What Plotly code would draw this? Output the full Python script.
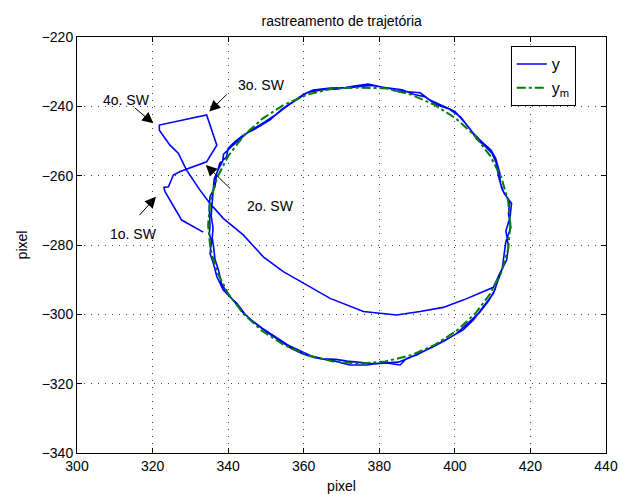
import plotly.graph_objects as go

# reference circle y_m
ym_x = [414.7, 414.1, 412.3, 409.3, 405.3, 400.4, 394.7, 388.4, 381.6, 374.7, 367.8, 361.0,
        354.7, 349.0, 344.1, 340.1, 337.1, 335.3, 334.7, 335.3, 337.1, 340.1, 344.1, 349.0,
        354.7, 361.0, 367.8, 374.7, 381.6, 388.4, 394.7, 400.4, 405.3, 409.3, 412.3, 414.1, 414.7]
ym_y = [-274.2, -267.3, -260.5, -254.2, -248.5, -243.6, -239.6, -236.6, -234.8, -234.6, -234.8, -236.6,
        -239.6, -243.6, -248.5, -254.2, -260.5, -267.3, -274.2, -281.1, -287.9, -294.2, -299.9, -304.8,
        -308.8, -311.8, -313.6, -314.2, -313.6, -311.8, -308.8, -304.8, -299.9, -294.2, -287.9, -281.1, -274.2]

# measured trajectory y: switching phase, chord, then two laps
y_x = [333.4, 329.9, 327.7, 323.3, 323.0, 324.2, 325.5, 327.3, 334.3, 337.0, 334.3, 321.8, 321.8,
       324.6, 326.8, 329.0, 332.5, 335.2, 338.7, 344.0, 349.3, 354.6, 362.5, 367.0, 375.8, 384.6,
       390.8, 396.9, 402.2, 410.2,
       411.9, 413.7, 414.2, 413.5, 414.6, 415.0, 413.0, 412.0, 411.9, 410.8, 409.5, 407.2, 404.9,
       402.5, 400.0, 396.5, 393.4, 390.8, 387.2, 384.0, 382.8, 378.0, 375.0, 372.0, 367.0, 362.5,
       360.0, 357.2, 354.0, 351.1, 346.7, 344.0, 341.8, 340.0, 339.6, 337.8, 337.0, 336.5, 335.2,
       335.0, 335.2, 335.0, 335.6, 335.2, 336.1, 337.0, 338.7, 340.5, 342.3, 344.5, 347.0, 350.0,
       353.5, 357.0, 360.0, 363.0, 367.0, 370.0, 372.2, 376.7, 381.0, 385.5, 387.2, 389.9, 393.0,
       396.0, 399.0, 402.2, 404.9, 407.5, 410.2, 411.5,
       412.5, 413.0, 413.5, 414.8, 414.2, 414.5, 412.5, 411.5, 411.0, 409.8, 408.0, 405.8, 404.0,
       401.5, 398.5, 395.0, 392.0, 389.0, 386.0, 381.0, 377.0, 373.0, 369.0, 365.0, 361.0, 358.5,
       355.5, 352.5, 349.0, 345.5, 343.0, 341.0, 338.8, 338.5, 337.5, 336.3, 336.0, 335.8, 335.5,
       336.0, 335.8, 336.2, 336.5, 337.5, 338.2, 339.8, 341.8, 343.5, 346.0, 349.0, 352.5, 356.0,
       359.0, 362.0, 365.0, 368.5, 371.5, 375.0, 378.5, 382.0, 385.0, 388.0, 391.0, 394.0, 397.5,
       400.5, 403.5, 406.5, 409.0, 410.8]
y_y = [-276.3, -274.2, -272.8, -264.6, -263.4, -263.2, -259.8, -258.8, -256.0, -251.2, -242.5, -245.4, -246.9,
       -251.2, -253.5, -258.4, -264.1, -268.0, -272.3, -277.1, -283.4, -287.7, -292.5, -295.4, -299.2, -300.2,
       -299.2, -298.0, -295.9, -292.2,
       -288.2, -284.3, -280.5, -276.0, -272.0, -268.0, -265.0, -262.0, -259.3, -255.0, -252.5, -250.3, -247.8,
       -244.5, -241.5, -239.7, -238.2, -236.1, -235.8, -235.5, -234.8, -234.0, -234.3, -234.6, -234.7, -235.3,
       -236.5, -238.7, -241.0, -243.9, -246.8, -248.3, -250.2, -252.1, -254.5, -256.4, -259.3, -263.2, -266.1,
       -268.9, -274.7, -276.6, -279.0, -282.4, -285.3, -289.1, -293.0, -295.0, -296.8, -300.0, -302.5, -305.0,
       -307.5, -310.0, -311.5, -312.5, -313.2, -314.0, -314.6, -314.6, -313.9, -314.6, -312.7, -311.7, -310.0,
       -308.3, -306.5, -304.5, -301.6, -297.8, -294.0, -290.0,
       -287.0, -283.0, -279.0, -275.0, -271.0, -267.5, -264.0, -260.0, -256.5, -253.5, -251.5, -249.5, -246.5,
       -243.0, -240.8, -239.5, -237.2, -236.5, -235.2, -234.5, -233.6, -234.2, -235.0, -235.2, -236.0, -237.8,
       -240.0, -242.5, -245.0, -247.2, -249.5, -251.5, -253.8, -256.0, -258.0, -261.0, -265.0, -268.0, -271.5,
       -275.0, -278.0, -281.0, -284.0, -287.5, -291.0, -294.0, -296.5, -299.0, -301.5, -304.0, -306.5, -309.0,
       -310.5, -312.0, -312.8, -313.0, -313.5, -314.0, -314.3, -314.0, -313.8, -312.5, -311.0, -309.5, -307.5,
       -305.5, -302.5, -299.5, -296.0, -292.5]

# annotations: label, label position, arrow tail, arrow tip
sw_labels = ["1o. SW", "2o. SW", "3o. SW", "4o. SW"]
sw_text_x = [314.9, 351.3, 348.9, 313.1]
sw_text_y = [-276.8, -268.7, -233.8, -238.2]
sw_tail_x = [316.2, 340.9, 340.0, 314.9]
sw_tail_y = [-271.8, -264.1, -236.2, -240.1]
sw_tip_x = [320.9, 334.1, 335.0, 320.2]
sw_tip_y = [-266.1, -256.9, -241.5, -244.9]

x_ticks = [300, 320, 340, 360, 380, 400, 420, 440]
y_ticks = [-340, -320, -300, -280, -260, -240, -220]

FONT = "Liberation Sans, Arial, Helvetica, sans-serif"

fig = go.Figure()
fig.add_trace(go.Scatter(x=y_x, y=y_y, mode="lines", name="y",
                         line=dict(color="#0000ff", width=1.6)))
fig.add_trace(go.Scatter(x=ym_x, y=ym_y, mode="lines", name="y<sub>m</sub>",
                         line=dict(color="#008000", width=2, dash="dashdot")))

for lab, tx, ty in zip(sw_labels, sw_text_x, sw_text_y):
    fig.add_annotation(x=tx, y=ty, text=lab, showarrow=False, xref="x", yref="y",
                       font=dict(size=14, color="black", family=FONT))
for ax_, ay_, x_, y_ in zip(sw_tail_x, sw_tail_y, sw_tip_x, sw_tip_y):
    fig.add_annotation(x=x_, y=y_, ax=ax_, ay=ay_, axref="x", ayref="y", xref="x", yref="y",
                       text="", showarrow=True, arrowhead=2, arrowsize=2.2, arrowwidth=1,
                       arrowcolor="black", standoff=0)

axis_common = dict(showgrid=True, gridcolor="#444444", griddash="1px,6px", gridwidth=1,
                   showline=True, linecolor="black", linewidth=1, mirror="allticks",
                   ticks="inside", ticklen=5, tickcolor="black", zeroline=False,
                   automargin=False,
                   tickfont=dict(size=14, color="black", family=FONT))

fig.update_xaxes(range=[300, 440], tickvals=x_ticks, **axis_common,
                 title=dict(text="pixel", font=dict(size=14, color="black", family=FONT), standoff=9))
fig.update_yaxes(range=[-340, -220], tickvals=y_ticks, **axis_common,
                 title=dict(text="pixel", font=dict(size=14, color="black", family=FONT), standoff=10))

fig.update_layout(
    width=619, height=494,
    margin=dict(l=77, r=13, t=37, b=41),
    paper_bgcolor="white", plot_bgcolor="white",
    title=dict(text="rastreamento de trajetória", x=0.552, xanchor="center",
               y=1 - 21 / 494, yanchor="middle",
               font=dict(size=14, color="black", family=FONT)),
    legend=dict(x=0.820, y=0.978, xanchor="left", yanchor="top",
                bordercolor="black", borderwidth=1, bgcolor="white",
                font=dict(size=16, color="black", family=FONT),
                tracegroupgap=0),
    showlegend=True,
)

fig.write_html("out.html")
